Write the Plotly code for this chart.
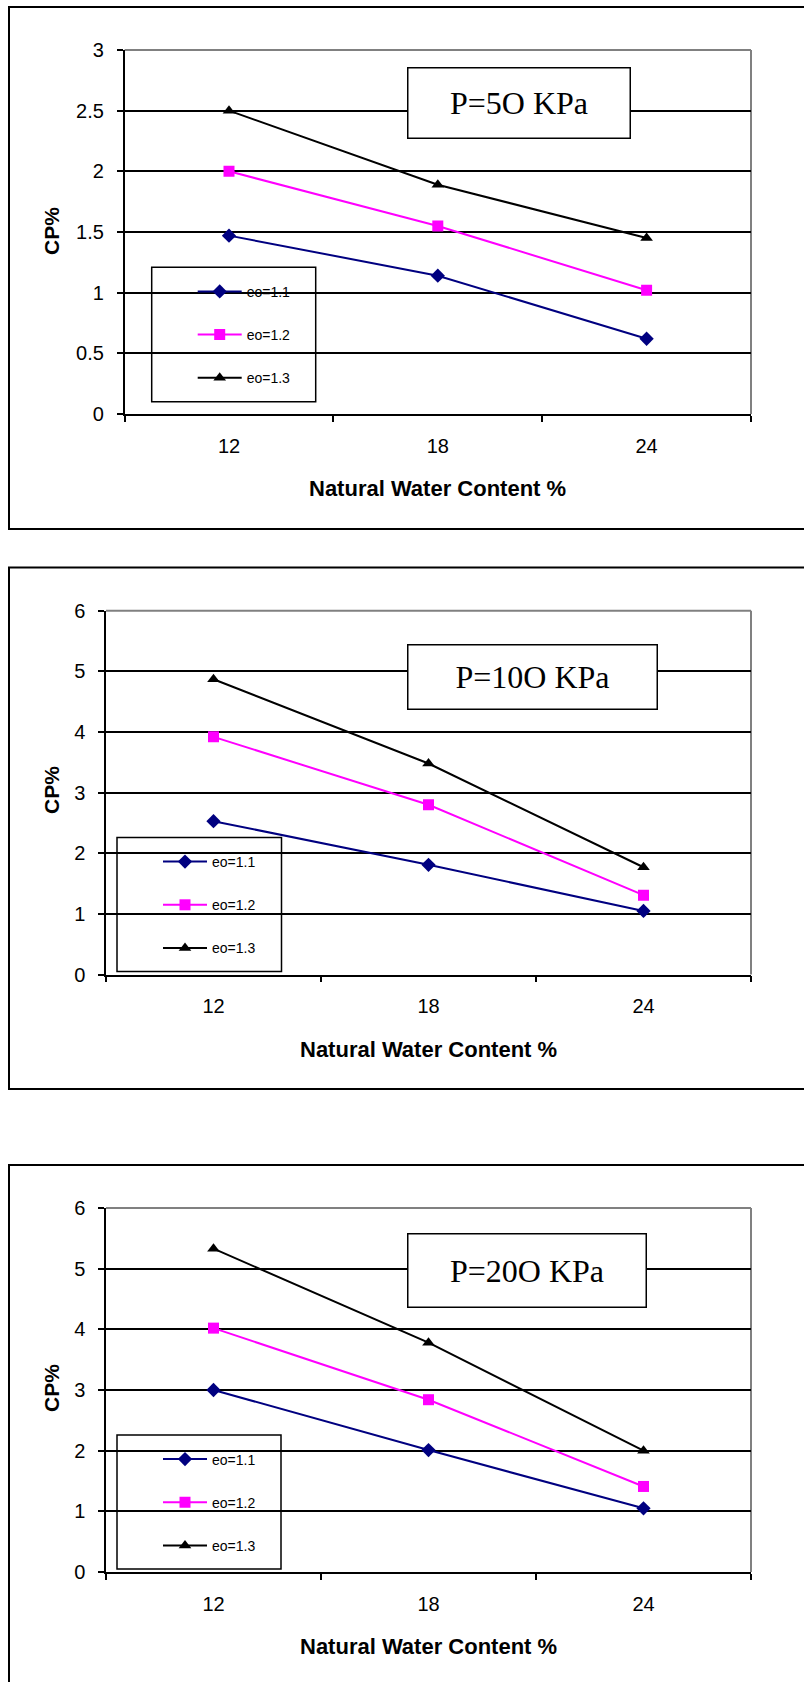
import plotly.graph_objects as go

# data
water_content = ["12", "18", "24"]
series_names = ["eo=1.1", "eo=1.2", "eo=1.3"]
series_colors = ["#000080", "#FF00FF", "#000000"]
series_symbols = ["diamond", "square", "triangle-up"]

cp50_eo11 = [1.47, 1.14, 0.62]
cp50_eo12 = [2.0, 1.55, 1.02]
cp50_eo13 = [2.5, 1.89, 1.45]

cp100_eo11 = [2.53, 1.81, 1.05]
cp100_eo12 = [3.92, 2.80, 1.31]
cp100_eo13 = [4.87, 3.48, 1.77]

cp200_eo11 = [3.0, 2.01, 1.05]
cp200_eo12 = [4.02, 2.84, 1.41]
cp200_eo13 = [5.33, 3.78, 2.0]

panel_labels = ["P=5O KPa", "P=10O KPa", "P=20O KPa"]
y_max = [3, 6, 6]
y_step = [0.5, 1, 1]

W, H = 804, 1682
SANS = "Liberation Sans, Arial, sans-serif"
SERIF = "Liberation Serif, Times New Roman, serif"


def px(x):
    return x / W


def py(y):
    return 1 - y / H


# pixel layout of each panel (plot area, outer frame, label box, legend box, titles)
panels = [
    dict(values=[cp50_eo11, cp50_eo12, cp50_eo13],
         plot=(124.6, 50, 751, 414), frame=(9, 7, 529),
         box=(408, 69, 629, 138), leg=(151.7, 267.3, 315.7, 401.7),
         ytitle=231, xtitle=489),
    dict(values=[cp100_eo11, cp100_eo12, cp100_eo13],
         plot=(106, 610.7, 751, 974.6), frame=(9, 567.5, 1089),
         box=(408, 645, 656, 708), leg=(117, 837.5, 281.5, 971.4),
         ytitle=790, xtitle=1049),
    dict(values=[cp200_eo11, cp200_eo12, cp200_eo13],
         plot=(106, 1208, 751, 1572), frame=(9, 1165, 1700),
         box=(408, 1234, 645, 1306), leg=(117, 1435, 281, 1569),
         ytitle=1388, xtitle=1646),
]

fig = go.Figure()
shapes = []
annotations = []
layout = {}

for i, p in enumerate(panels):
    n = "" if i == 0 else str(i + 1)
    leg_name = "legend" + n
    for j in range(3):
        fig.add_trace(go.Scatter(
            x=water_content, y=p["values"][j],
            mode="lines+markers",
            name=series_names[j],
            line=dict(color=series_colors[j], width=2),
            marker=dict(symbol=series_symbols[j], size=11, color=series_colors[j]),
            xaxis="x" + n, yaxis="y" + n,
            legend=leg_name, legendgroup=f"p{i}s{j}",
        ))

    x0, y0, x1, y1 = p["plot"]
    layout["xaxis" + n] = dict(
        domain=[px(x0), px(x1)], anchor="y" + n, type="category",
        range=[-0.5, 2.5], tickson="boundaries", ticks="outside", ticklen=6,
        tickcolor="black", tickwidth=1.5, showline=True, linecolor="black",
        linewidth=1.5, showgrid=False, zeroline=False, ticklabelstandoff=13,
        automargin=False, tickfont=dict(family=SANS, size=20, color="black"),
    )
    layout["yaxis" + n] = dict(
        domain=[py(y1), py(y0)], anchor="x" + n, range=[0, y_max[i]],
        dtick=y_step[i], ticks="outside", ticklen=6, tickcolor="black",
        tickwidth=1.5, showline=True, linecolor="black", linewidth=1.5,
        showgrid=True, gridcolor="black", gridwidth=1.5, zeroline=False,
        automargin=False, ticklabelstandoff=9,
        tickfont=dict(family=SANS, size=20, color="black"),
    )

    # gray top/right border of plot area
    shapes.append(dict(type="line", xref="paper", yref="paper", x0=px(x0), x1=px(x1),
                       y0=py(y0), y1=py(y0), line=dict(color="#808080", width=2), layer="between"))
    shapes.append(dict(type="line", xref="paper", yref="paper", x0=px(x1), x1=px(x1),
                       y0=py(y0), y1=py(y1), line=dict(color="#808080", width=2), layer="between"))

    # outer chart frame
    fx, ft, fb = p["frame"]
    shapes.append(dict(type="rect", xref="paper", yref="paper", x0=px(fx), x1=1.02,
                       y0=py(fb), y1=py(ft), line=dict(color="black", width=2)))

    # legend box
    lx0, ly0, lx1, ly1 = p["leg"]
    shapes.append(dict(type="rect", xref="paper", yref="paper", x0=px(lx0), x1=px(lx1),
                       y0=py(ly1), y1=py(ly0), fillcolor="white",
                       line=dict(color="black", width=1.5), layer="between"))
    layout[leg_name] = dict(
        x=px(lx0 + 41), y=py(ly0 + 8.5), xanchor="left", yanchor="top",
        bgcolor="rgba(0,0,0,0)", borderwidth=0, itemwidth=44,
        tracegroupgap=22, traceorder="grouped",
        font=dict(family=SANS, size=14, color="black"),
    )

    # pressure label box
    bx0, by0, bx1, by1 = p["box"]
    annotations.append(dict(
        text=panel_labels[i], xref="paper", yref="paper",
        x=px((bx0 + bx1) / 2), y=py((by0 + by1) / 2), xanchor="center", yanchor="middle",
        width=bx1 - bx0, height=by1 - by0, borderpad=0, align="center", valign="middle",
        bgcolor="white", bordercolor="black", borderwidth=1.5, showarrow=False,
        font=dict(family=SERIF, size=32, color="black"),
    ))

    # axis titles
    annotations.append(dict(
        text="<b>Natural Water Content %</b>", xref="paper", yref="paper",
        x=px((x0 + x1) / 2), y=py(p["xtitle"]), xanchor="center", yanchor="middle",
        showarrow=False, font=dict(family=SANS, size=22, color="black"),
    ))
    annotations.append(dict(
        text="<b>CP%</b>", xref="paper", yref="paper", textangle=-90,
        x=px(51), y=py(p["ytitle"]), xanchor="center", yanchor="middle",
        showarrow=False, font=dict(family=SANS, size=21, color="black"),
    ))

fig.update_layout(
    width=W, height=H, autosize=False,
    margin=dict(l=0, r=0, t=0, b=0, autoexpand=False),
    paper_bgcolor="white", plot_bgcolor="white",
    showlegend=True, shapes=shapes, annotations=annotations,
    **layout,
)

# drop the page's default body margin so the figure sits at the window origin
fig.write_html("out.html", config={"displayModeBar": False},
               post_script="document.body.style.margin='0';")
